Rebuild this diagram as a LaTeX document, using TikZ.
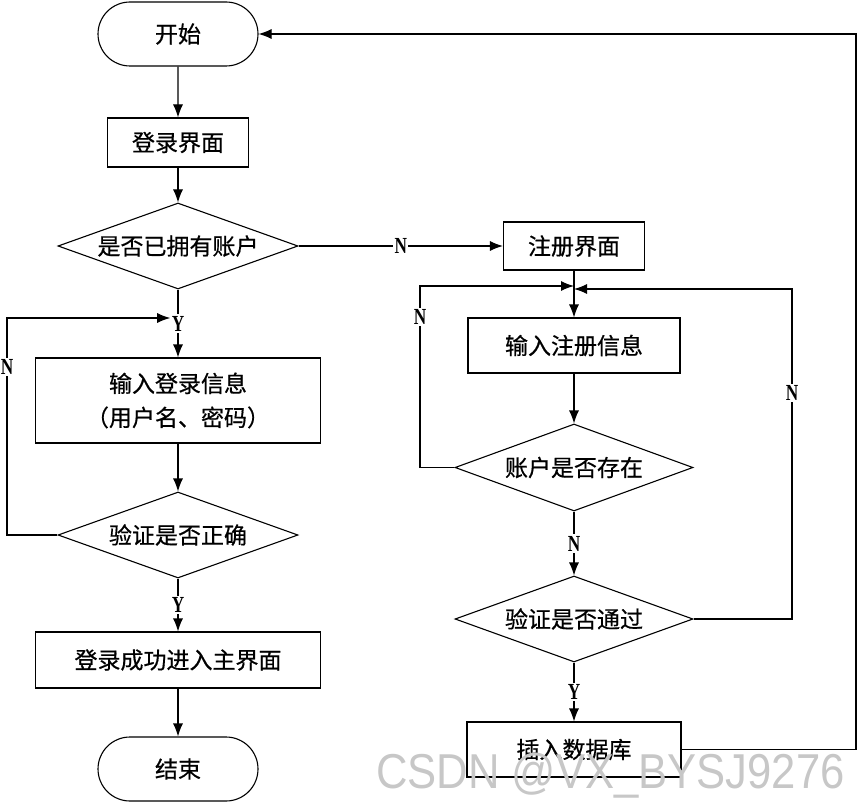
\documentclass[tikz,border=0pt]{standalone}
\usepackage{fontspec}
\setmainfont{Liberation Serif}
\newfontfamily\cjk[FakeBold=0.6]{Noto Sans CJK SC}
\newfontfamily\wmfont{Liberation Sans}
\usetikzlibrary{arrows.meta, shapes.geometric, shapes.misc}
\usetikzlibrary{positioning}
\tikzstyle{term_node} = [
    rounded rectangle, 
    draw=black, 
    line width=1.1pt, 
    font=\cjk\fontsize{23}{27}\selectfont, 
    inner sep=0pt, 
    minimum width=160pt, 
    minimum height=64pt
]
\tikzstyle{proc_node} = [
    rectangle, 
    draw=black, 
    line width=1.1pt, 
    font=\cjk\fontsize{23}{34}\selectfont, 
    align=center, 
    inner sep=0pt
]
\tikzstyle{dec_node} = [
    diamond, 
    aspect=2.8, 
    draw=black, 
    line width=1.1pt, 
    font=\cjk\fontsize{23}{27}\selectfont, 
    inner sep=0pt, % size comes from the minimum values
    minimum width=240pt, 
    minimum height=86pt
]
\tikzstyle{yn_label} = [
    fill=white, 
    inner sep=1.5pt, 
    xscale=0.75, 
    font=\bfseries\fontsize{23}{23}\selectfont
]
\tikzstyle{flow_line} = [
    draw=black, 
    line width=1.1pt, 
    -{Latex[length=13pt, width=10pt]}
]
\tikzstyle{wm_text} = [
    anchor=base west, 
    xscale=0.89, 
    text=black!22, 
    font=\wmfont\fontsize{49}{49}\selectfont
]

\begin{document}
\begin{tikzpicture}[x=1pt, y=-1pt]
\useasboundingbox (0,0) rectangle (858,802);

% left column
\node [term_node] (start) at (178,34) {开始};
\node [proc_node, minimum width=141pt, minimum height=49pt] (login_ui) at (178,142.5) {登录界面};
\node [dec_node] (has_acct) at (178,246) {是否已拥有账户};
\node [proc_node, minimum width=285pt, minimum height=85pt] (login_in) at (178,400.5) {输入登录信息\\（用户名、密码）};
\node [dec_node] (login_ok) at (178,535) {验证是否正确};
\node [proc_node, minimum width=285pt, minimum height=56pt] (login_done) at (178,660) {登录成功进入主界面};
\node [term_node] (finish) at (178,769) {结束};

% right column
\node [proc_node, minimum width=141pt, minimum height=48pt] (reg_ui) at (574,246) {注册界面};
\node [proc_node, minimum width=212pt, minimum height=55pt] (reg_in) at (574,345.5) {输入注册信息};
\node [dec_node, minimum width=238pt, minimum height=87pt] (acct_exist) at (574,467.5) {账户是否存在};
\node [dec_node, minimum width=238pt] (reg_ok) at (574,619) {验证是否通过};
\node [proc_node, minimum width=214pt, minimum height=55pt] (db_insert) at (574,749.5) {插入数据库};

% rails and junctions
\coordinate (left_rail) at (7,0);
\coordinate (mid_rail) at (420,0);
\coordinate (right_rail) at (792,0);
\coordinate (outer_rail) at (856,0);
\coordinate (login_join) at (178,318);
\coordinate (reg_join_l) at (574,286);
\coordinate (reg_join_r) at (574,289);

\draw [flow_line] (start) -- (login_ui);
\draw [flow_line] (login_ui) -- (has_acct);
\draw [flow_line] (has_acct.east) -- node [yn_label] {N} (reg_ui.west);
\draw [flow_line] (has_acct.south) -- node [yn_label] (y_login) {Y} (login_in.north);
\draw [flow_line] (login_in) -- (login_ok);
\draw [flow_line] (login_ok.south) -- node [yn_label] {Y} (login_done.north);
\draw [flow_line] (login_done) -- (finish);
\draw [flow_line] (login_ok.west) -- (login_ok.west -| left_rail)
    -- node [yn_label, pos=0.774] {N} (login_join -| left_rail) -- (y_login.west |- login_join);

\draw [flow_line] (reg_ui) -- (reg_in);
\draw [flow_line] (reg_in) -- (acct_exist);
\draw [flow_line] (acct_exist.south) -- node [yn_label] {N} (reg_ok.north);
\draw [flow_line] (reg_ok.south) -- node [yn_label] {Y} (db_insert.north);
\draw [flow_line] (acct_exist.west) -- (acct_exist.west -| mid_rail)
    -- node [yn_label, pos=0.83] {N} (reg_join_l -| mid_rail) -- (reg_join_l);
\draw [flow_line] (reg_ok.east) -- (reg_ok.east -| right_rail)
    -- node [yn_label, pos=0.685] {N} (reg_join_r -| right_rail) -- (reg_join_r);
\draw [flow_line] (db_insert.east) -- (db_insert.east -| outer_rail)
    -- (start.east -| outer_rail) -- (start.east);

\node [wm_text] (watermark) at (373,788) {CSDN @VX\_BYSJ9276};
\end{tikzpicture}
\end{document}
